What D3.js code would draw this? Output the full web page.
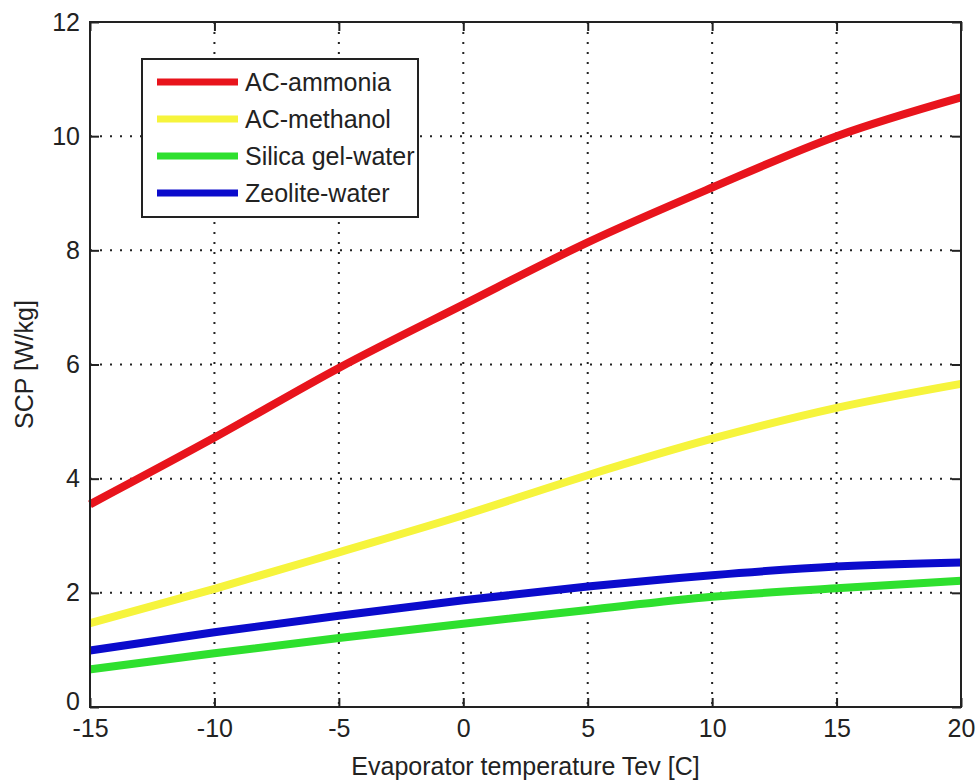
<!DOCTYPE html>
<html>
<head>
<meta charset="utf-8">
<script src="https://cdn.jsdelivr.net/npm/d3@7"></script>
<style>
  body { margin: 0; background: #fff; }
  text { font-family: "Liberation Sans", Arial, sans-serif; fill: #222; }
</style>
</head>
<body>
<div id="main"></div>
<script>
// evaporator temperature (C)
var temps = [-15, -10, -5, 0, 5, 10, 15, 20];

// SCP values [W/kg]
var acAmmonia = [3.55, 4.72, 5.94, 7.05, 8.14, 9.1, 10.0, 10.68];
var acMethanol = [1.47, 2.07, 2.71, 3.36, 4.06, 4.7, 5.24, 5.66];
var silicaGel = [0.66, 0.94, 1.21, 1.46, 1.7, 1.93, 2.08, 2.21];
var zeolite = [0.99, 1.31, 1.6, 1.87, 2.11, 2.31, 2.46, 2.53];

var names = ['AC-ammonia', 'AC-methanol', 'Silica gel-water', 'Zeolite-water'];
var colors = ['#e8141c', '#f6f43c', '#2ee02e', '#0b0bcc'];

var xTicks = [-15, -10, -5, 0, 5, 10, 15, 20];
var yTicks = [0, 2, 4, 6, 8, 10, 12];

var width = 978;
var height = 780;
var plotLeft = 90, plotRight = 961, plotTop = 22, plotBottom = 707;

var svg = d3.select("#main").append("svg")
  .attr("width", width)
  .attr("height", height);

var x = d3.scaleLinear().domain([-15, 20]).range([plotLeft, plotRight]);
var y = d3.scaleLinear().domain([0, 12]).range([plotBottom, plotTop]);

// grid (dotted), skip the box edges
var grid = svg.append("g").attr("stroke", "#222").attr("stroke-width", 2)
  .attr("stroke-dasharray", "2,8");
xTicks.slice(1, -1).forEach(function(t) {
  grid.append("line")
    .attr("x1", x(t)).attr("x2", x(t))
    .attr("y1", plotTop).attr("y2", plotBottom);
});
yTicks.slice(1, -1).forEach(function(t) {
  grid.append("line")
    .attr("x1", plotLeft).attr("x2", plotRight)
    .attr("y1", y(t)).attr("y2", y(t));
});

// series
var series = [acAmmonia, acMethanol, silicaGel, zeolite];
var line = d3.line()
  .x(function(d, i) { return x(temps[i]); })
  .y(function(d) { return y(d); })
  .curve(d3.curveMonotoneX);

var plot = svg.append("g");
series.forEach(function(s, i) {
  plot.append("path")
    .datum(s)
    .attr("fill", "none")
    .attr("stroke", colors[i])
    .attr("stroke-width", 8)
    .attr("d", line);
});

// axes: inward ticks on all four sides
var tickLen = 9;
var fmt = function(d) { return String(d); };
var xAxisB = d3.axisBottom(x).tickValues(xTicks).tickSizeInner(-tickLen).tickSizeOuter(0).tickPadding(12).tickFormat(fmt);
var xAxisT = d3.axisTop(x).tickValues(xTicks).tickSizeInner(-tickLen).tickSizeOuter(0).tickFormat("");
var yAxisL = d3.axisLeft(y).tickValues(yTicks).tickSizeInner(-tickLen).tickSizeOuter(0).tickPadding(10).tickFormat(fmt);
var yAxisR = d3.axisRight(y).tickValues(yTicks).tickSizeInner(-tickLen).tickSizeOuter(0).tickFormat("");

function styleAxis(g) {
  g.select(".domain").remove();
  g.selectAll(".tick line").attr("stroke", "#222").attr("stroke-width", 2);
  g.selectAll(".tick text")
    .style("font-family", '"Liberation Sans", Arial, sans-serif')
    .style("font-size", "25px")
    .attr("fill", "#222");
}

svg.append("g").attr("transform", "translate(0," + plotBottom + ")").call(xAxisB).call(styleAxis);
svg.append("g").attr("transform", "translate(0," + plotTop + ")").call(xAxisT).call(styleAxis);
var yAxisG = svg.append("g").attr("transform", "translate(" + plotLeft + ",0)").call(yAxisL).call(styleAxis);
// the 0 label sits right above -15, nudge it up a little
yAxisG.selectAll(".tick text").filter(function(d) { return d === 0; }).attr("dy", "0.1em");
svg.append("g").attr("transform", "translate(" + plotRight + ",0)").call(yAxisR).call(styleAxis);

// box
svg.append("rect")
  .attr("x", plotLeft).attr("y", plotTop)
  .attr("width", plotRight - plotLeft).attr("height", plotBottom - plotTop)
  .attr("fill", "none")
  .attr("stroke", "#222")
  .attr("stroke-width", 2);

// axis labels
svg.append("text")
  .attr("x", (plotLeft + plotRight) / 2)
  .attr("y", 775)
  .attr("text-anchor", "middle")
  .style("font-size", "25px")
  .text("Evaporator temperature Tev [C]");

svg.append("text")
  .attr("transform", "translate(33," + (plotTop + plotBottom) / 2 + ") rotate(-90)")
  .attr("text-anchor", "middle")
  .style("font-size", "25px")
  .text("SCP [W/kg]");

// legend
var legend = svg.append("g").attr("transform", "translate(142,59)");
legend.append("rect")
  .attr("width", 276).attr("height", 158)
  .attr("fill", "#fff")
  .attr("stroke", "#222")
  .attr("stroke-width", 2);

names.forEach(function(n, i) {
  var ly = 23 + i * 37;
  legend.append("line")
    .attr("x1", 15).attr("x2", 96)
    .attr("y1", ly).attr("y2", ly)
    .attr("stroke", colors[i])
    .attr("stroke-width", 7);
  legend.append("text")
    .attr("x", 103)
    .attr("y", ly + 9)
    .style("font-size", "25px")
    .text(n);
});
</script>
</body>
</html>
